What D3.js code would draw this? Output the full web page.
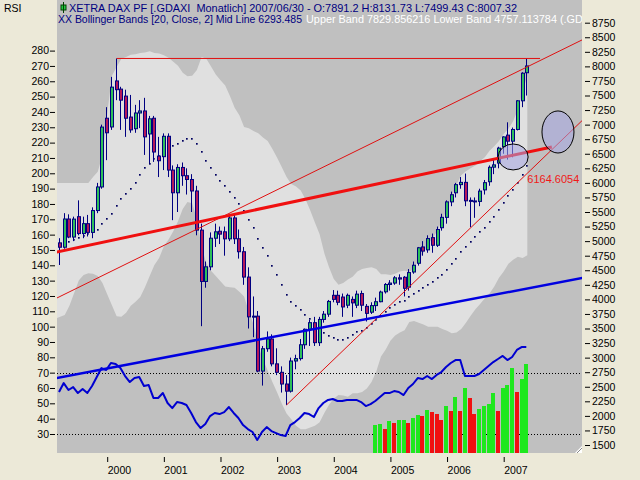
<!DOCTYPE html>
<html><head><meta charset="utf-8">
<script src="https://cdn.jsdelivr.net/npm/d3@7/dist/d3.min.js"></script>
<style>
html,body{margin:0;padding:0;background:#ece9d8;overflow:hidden}
svg{display:block}
text{font-family:"Liberation Sans",Arial,sans-serif;white-space:pre;}
</style></head><body>
<svg id="chart" width="640" height="480"></svg>
<script>
// ---- DATA (monthly bars, first bar = March 1999) ----
const startYear = 1999, startMonth = 3;
const opens = [4970,4895,5380,5070,5420,5130,5300,5150,5525,5930,
7110,6960,7750,7610,7490,7130,6930,7200,7235,6840,
7110,6460,6450,6800,6220,5830,6265,6123,6058,5861,
5189,4308,4559,5050,5170,5160,5039,5398,5041,4818,
4383,3700,3712,2769,3153,3320,2893,2748,2547,2424,
2942,2983,3221,3487,3600,3257,3656,3746,4070,4070,
4040,3900,4000,3900,4100,3880,3780,3893,3960,4130,
4256,4280,4370,4380,4210,4470,4620,4900,4850,5060,
4929,5230,5408,5674,5830,5970,6009,5700,5690,5682,
5880,6020,6270,6340,6620,6820,6716,6917,7409,7891.2];
const highs = [5050,5480,5460,5420,5700,5420,5450,5580,6000,7000,
7300,7820,8136,7650,7600,7510,7340,7420,7460,7150,
7150,6790,6850,6850,6300,6320,6350,6250,6150,5950,
5300,4650,5150,5300,5250,5250,5470,5450,5200,4900,
4550,4050,3800,3200,3450,3400,3160,2850,2700,3000,
3050,3320,3500,3650,3700,3700,3800,3990,4160,4150,
4100,4100,4050,4150,4150,3920,3950,4030,4150,4280,
4330,4400,4430,4400,4520,4650,4900,5000,5100,5130,
5250,5470,5700,5850,6000,6100,6160,5750,5750,5900,
6050,6300,6400,6620,6800,7040,6950,7420,7900,8131.73];
const lows = [4590,4870,5050,5000,5100,5050,5080,5050,5480,5900,
6390,6910,7420,6910,6790,6860,6860,6940,6480,6340,
6360,6100,6220,6100,5360,5500,5950,5800,5500,5100,
3540,4200,4500,4900,4950,4750,5000,4950,4700,4250,
3500,3350,2750,2520,3100,2850,2700,2400,2188,2400,
2800,2950,3150,3200,3200,3200,3600,3700,3950,3900,
3700,3850,3700,3850,3800,3620,3750,3800,3950,4100,
4150,4250,4250,4050,4150,4440,4580,4750,4800,4800,
4900,5180,5300,5600,5750,5900,5600,5240,5400,5600,
5800,5950,6150,6250,6500,6400,6440,6900,7300,7499.43];
const closes = [4895,5380,5070,5378,5130,5300,5150,5525,5930,6958,
6860,7644,7600,7420,7110,6910,7200,7235,6790,7100,
6530,6380,6800,6220,5830,6265,6123,6058,5861,5189,
4308,4559,5050,5160,5120,5039,5398,5041,4818,4383,
3700,3712,2769,3153,3320,2893,2748,2547,2424,2942,
2983,3221,3487,3600,3257,3656,3746,3965,4000,3950,
3870,4070,3940,4090,3900,3760,3893,3960,4126,4256,
4280,4370,4349,4190,4460,4586,4886,4829,5044,4929,
5200,5408,5674,5797,5970,6009,5692,5683,5682,5859,
6004,6268,6309,6597,6789,6716,6917,7409,7883,8007.32];

// Bollinger Bands [20, Close, 2]
const bbUpper = [6000,6000,6000,6000,6000,6000,6000,6100,6190,6480,
7180,7840,7990,8130,8160,8200,8210,8230,8240,8260,
8230,8220,8190,8150,8080,8010,7890,7830,7840,7940,
8160,8130,8000,7860,7760,7670,7490,7290,7160,6960,
6940,6890,6850,6780,6720,6580,6430,6270,6100,5980,
5940,5870,5720,5530,5320,5120,4790,4550,4350,4250,
4280,4340,4390,4480,4520,4540,4550,4520,4430,4430,
4420,4440,4480,4490,4470,4540,4690,4800,4950,5050,
5190,5360,5560,5770,5970,6130,6200,6250,6300,6370,
6440,6550,6630,6720,6840,6930,7060,7260,7570,7829.86];
const bbLower = [3680,3730,3890,4110,4330,4420,4450,4440,4400,4280,
4090,3900,3710,3700,3770,3890,3960,4040,4210,4400,
4590,4710,4910,5030,5170,5340,5550,5670,5650,5380,
4900,4620,4490,4400,4310,4220,4210,4200,4130,4050,
3790,3570,3210,2970,2780,2580,2400,2210,2040,1940,
1830,1770,1770,1800,1830,1890,2050,2190,2300,2360,
2350,2330,2390,2390,2410,2470,2580,2760,3020,3140,
3290,3380,3430,3470,3610,3630,3600,3570,3530,3530,
3530,3490,3460,3420,3430,3490,3600,3720,3830,3920,
4020,4100,4220,4370,4480,4610,4680,4730,4710,4757.11];
const bbMid = [4930,4950,4990,5020,5050,5090,5120,5160,5190,5290,
5380,5470,5600,5720,5810,5900,6000,6140,6260,6330,
6410,6460,6550,6590,6630,6670,6720,6750,6750,6660,
6530,6370,6250,6130,6030,5940,5850,5740,5640,5510,
5370,5230,5030,4880,4750,4580,4410,4240,4070,3950,
3890,3820,3740,3670,3570,3500,3420,3370,3330,3300,
3310,3330,3390,3440,3460,3510,3570,3640,3720,3790,
3850,3910,3950,3980,4040,4090,4150,4190,4240,4290,
4360,4420,4510,4600,4700,4810,4900,4990,5070,5150,
5230,5330,5420,5540,5660,5770,5870,6000,6140,6293.49];

// RSI (left scale)
const rsi = [57.4,63.2,58.7,60.6,56.7,59.3,56.7,61.3,67.2,73.0,
71.7,76.3,75.6,73.0,67.8,63.9,66.5,67.2,61.3,61.9,
53.5,53.5,56.7,50.2,46.9,50.8,50.2,48.9,43.7,37.8,
33.9,36.5,41.7,43.7,43.0,44.3,47.6,43.7,40.4,35.8,
33.2,31.3,26.1,31.3,34.5,31.9,30.6,29.3,28.7,35.8,
37.8,40.4,43.7,43.0,41.1,46.9,50.2,52.2,52.8,51.5,
51.5,52.2,52.2,52.2,50.8,48.2,49.5,51.5,54.1,56.7,
56.7,58.0,57.4,55.4,60.0,62.6,66.5,65.8,67.8,65.8,
68.5,70.4,73.7,76.3,78.2,78.2,67.8,67.8,67.8,69.1,
71.7,74.3,76.9,78.9,80.9,78.2,80.2,84.8,86.7,86.7];
const rsiLevels = [70, 30];

// Volume-type histogram (bars from Oct 2004 onwards)
const volStart = 67;
const volume = [28,29,24,32,30,33,33,30,35,38,37,43,41,39,33,47,42,56,42,65,55,39,44,47,49,60,42,65,68,85,61,74,89];
const volUp  = [1,1,0,1,0,1,1,0,1,1,0,1,0,0,0,1,0,1,0,1,0,0,1,1,1,1,0,1,1,1,0,1,1];

// Drawn trend lines: [barIndex, value]
const hLine      = [[12, 8136], [101.7, 8136]];
const channelTop = [[-1, 4010], [112, 8510]];
const thickLine  = [[-1, 4808], [104.2, 6617]];
const lowLine    = [[48, 2188], [99, 6164.6054], [112, 7178]];
const rsiTrend   = [[-1, 66.3], [112, 132.5]];
const lineLabel  = {i: 99, v: 6164.6054, text: "6164.6054"};
// Ellipse annotations: centre bar, centre price, half-width (bars), half-height (price)
const ellipses = [{i: 96, p: 6445, di: 3.18, dp: 223}, {i: 105.5, p: 6874, di: 3.39, dp: 361}];

// Axes tick labels
const priceTicks = d3.range(1500, 8751, 250);
const leftTicks = d3.range(30, 281, 10);
const yearLabels = [2000, 2001, 2002, 2003, 2004, 2005, 2006, 2007];

const header1 = "XETRA DAX PF [.GDAXI  Monatlich] 2007/06/30 - O:7891.2 H:8131.73 L:7499.43 C:8007.32";
const header2a = "XX Bollinger Bands [20, Close, 2] Mid Line 6293.485";
const header2b = "Upper Band 7829.856216 Lower Band 4757.113784 (.GDAXI)";

// ---- DRAWING ----
const svg = d3.select("#chart");
const PL = 57, PR = 582, PT = 0, PB = 453;
const FS = "10.5px";
const x  = d3.scaleLinear().domain([0, 99]).range([60, 527.3]);
const yP = d3.scaleLinear().domain([1500, 8750]).range([445, 22.7]);
const yL = d3.scaleLinear().domain([30, 280]).range([434, 50.6]);
const yV = d3.scaleLinear().domain([0, 100]).range([PB, PB - 100]);

svg.append("rect").attr("width", 640).attr("height", 480).attr("fill", "#ece9d8");
svg.append("defs").append("clipPath").attr("id", "clip")
  .append("rect").attr("x", PL).attr("y", PT).attr("width", PR - PL).attr("height", PB - PT);
svg.append("rect").attr("x", PL).attr("y", PT).attr("width", PR - PL).attr("height", PB - PT).attr("fill", "#c0c0c0");

const g = svg.append("g").attr("clip-path", "url(#clip)");
const idx = d3.range(closes.length);

// Bollinger band fill (first point runs from the plot's left edge)
g.append("path").datum(idx).attr("fill", "#e0e0e0")
  .attr("d", d3.area().x(i => i === 0 ? PL : x(i)).y0(i => yP(bbLower[i])).y1(i => yP(bbUpper[i])));

// RSI level lines
g.selectAll(".lvl").data(rsiLevels).join("line")
  .attr("x1", PL).attr("x2", PR)
  .attr("y1", v => Math.round(yL(v)) + 0.5).attr("y2", v => Math.round(yL(v)) + 0.5)
  .attr("stroke", "#000").attr("stroke-width", 1).attr("stroke-dasharray", "1,2");

// histogram bars
g.selectAll(".vol").data(volume).join("rect")
  .attr("x", (v, k) => Math.round(x(volStart + k)) - 3)
  .attr("width", 4)
  .attr("y", v => yV(v))
  .attr("height", v => yV(0) - yV(v))
  .attr("fill", (v, k) => volUp[k] ? "#1ee81e" : "#f01010");

// RSI line
g.append("path").datum(idx).attr("fill", "none").attr("stroke", "#0000d0").attr("stroke-width", 2)
  .attr("stroke-linejoin", "round")
  .attr("d", d3.line().x(i => x(i) - 1).y(i => yL(rsi[i])));

// Bollinger mid line (dotted)
g.selectAll(".mid").data(idx).join("rect")
  .attr("x", i => Math.round(x(i)) - 1).attr("y", i => Math.round(yP(bbMid[i])) - 1)
  .attr("width", 1.7).attr("height", 1.7).attr("fill", "#000060");

// Candles
const cg = g.append("g");
idx.forEach(i => {
  const xc = Math.round(x(i));
  cg.append("line").attr("x1", xc - 0.5).attr("x2", xc - 0.5)
    .attr("y1", yP(highs[i])).attr("y2", yP(lows[i]))
    .attr("stroke", "#000080").attr("stroke-width", 1);
  const top = yP(Math.max(opens[i], closes[i])), bot = yP(Math.min(opens[i], closes[i]));
  cg.append("rect").attr("x", xc - 1.5).attr("width", 3)
    .attr("y", top).attr("height", Math.max(1, bot - top))
    .attr("fill", closes[i] >= opens[i] ? "#2ebf5a" : "#b3185a")
    .attr("stroke", "#000080").attr("stroke-width", 1);
});

// Trend lines
const lp = d3.line().x(d => x(d[0])).y(d => yP(d[1]));
const ll = d3.line().x(d => x(d[0])).y(d => yL(d[1]));
g.append("path").datum(hLine).attr("d", lp).attr("stroke", "#e01010").attr("stroke-width", 1).attr("fill", "none");
g.append("path").datum(channelTop).attr("d", lp).attr("stroke", "#e01010").attr("stroke-width", 1).attr("fill", "none");
g.append("path").datum(lowLine).attr("d", lp).attr("stroke", "#e01010").attr("stroke-width", 1).attr("fill", "none");
g.append("path").datum(thickLine).attr("d", lp).attr("stroke", "#f01010").attr("stroke-width", 3).attr("fill", "none");
g.append("path").datum(rsiTrend).attr("d", ll).attr("stroke", "#0000e0").attr("stroke-width", 2.5).attr("fill", "none");

// Ellipses
g.selectAll(".ell").data(ellipses).join("ellipse")
  .attr("cx", d => x(d.i)).attr("cy", d => yP(d.p))
  .attr("rx", d => x(d.i + d.di) - x(d.i)).attr("ry", d => yP(d.p - d.dp) - yP(d.p))
  .attr("fill", "rgb(165,165,225)").attr("fill-opacity", 0.55)
  .attr("stroke", "#000").attr("stroke-width", 1);

// value label of the trend line
g.append("text").attr("x", x(lineLabel.i)).attr("y", yP(lineLabel.v) + 10)
  .attr("fill", "#f01818").style("font-size", "11px").text(lineLabel.text);

// resize grip
svg.append("path").attr("d", `M${PR},${PB - 7}L${PR},${PB}L${PR - 7},${PB}Z`).attr("fill", "#fff");
svg.append("path").attr("d", `M${PR - 5},${PB}L${PR},${PB - 5}`).attr("stroke", "#888").attr("stroke-width", 1);

// Header texts
svg.append("rect").attr("x", 61).attr("y", 5).attr("width", 5).attr("height", 5).attr("fill", "#22cc44").attr("stroke", "#004000").attr("stroke-width", 1);
svg.append("line").attr("x1", 63.5).attr("x2", 63.5).attr("y1", 2).attr("y2", 13).attr("stroke", "#004000");
svg.append("text").attr("x", 69).attr("y", 12).attr("fill", "#000080").style("font-size", FS)
  .attr("textLength", 448).attr("lengthAdjust", "spacingAndGlyphs").text(header1);
svg.append("text").attr("x", 58).attr("y", 23).attr("fill", "#000080").style("font-size", FS)
  .attr("textLength", 244).attr("lengthAdjust", "spacingAndGlyphs").text(header2a);
g.append("text").attr("x", 306).attr("y", 23).attr("fill", "#ffffff").style("font-size", FS)
  .attr("textLength", 298).attr("lengthAdjust", "spacingAndGlyphs").text(header2b);
svg.append("text").attr("x", 4).attr("y", 12).attr("fill", "#000").style("font-size", FS).text("RSI");

// Axes
function styleAxis(sel) {
  sel.select(".domain").remove();
  sel.selectAll("text").style("font-size", FS).style("font-family", '"Liberation Sans",Arial,sans-serif').attr("fill", "#000");
  sel.selectAll("line").attr("stroke", "#000");
}
svg.append("g").attr("transform", `translate(${PR + 3},0)`)
  .call(d3.axisRight(yP).tickValues(priceTicks).tickSize(5).tickPadding(2).tickFormat(d3.format("d")))
  .call(styleAxis);
svg.append("g").attr("transform", `translate(55,0)`)
  .call(d3.axisLeft(yL).tickValues(leftTicks).tickSize(5).tickPadding(1).tickFormat(d3.format("d")))
  .call(styleAxis);
const yearIdx = yearLabels.map(y => (y - startYear) * 12 - (startMonth - 1));
svg.append("g").attr("transform", `translate(0,457)`)
  .call(d3.axisBottom(x).tickValues(yearIdx).tickSize(5).tickPadding(5).tickFormat((d, k) => String(yearLabels[k])))
  .call(styleAxis)
  .call(s => s.selectAll("text").attr("text-anchor", "start"));
</script></body></html>
